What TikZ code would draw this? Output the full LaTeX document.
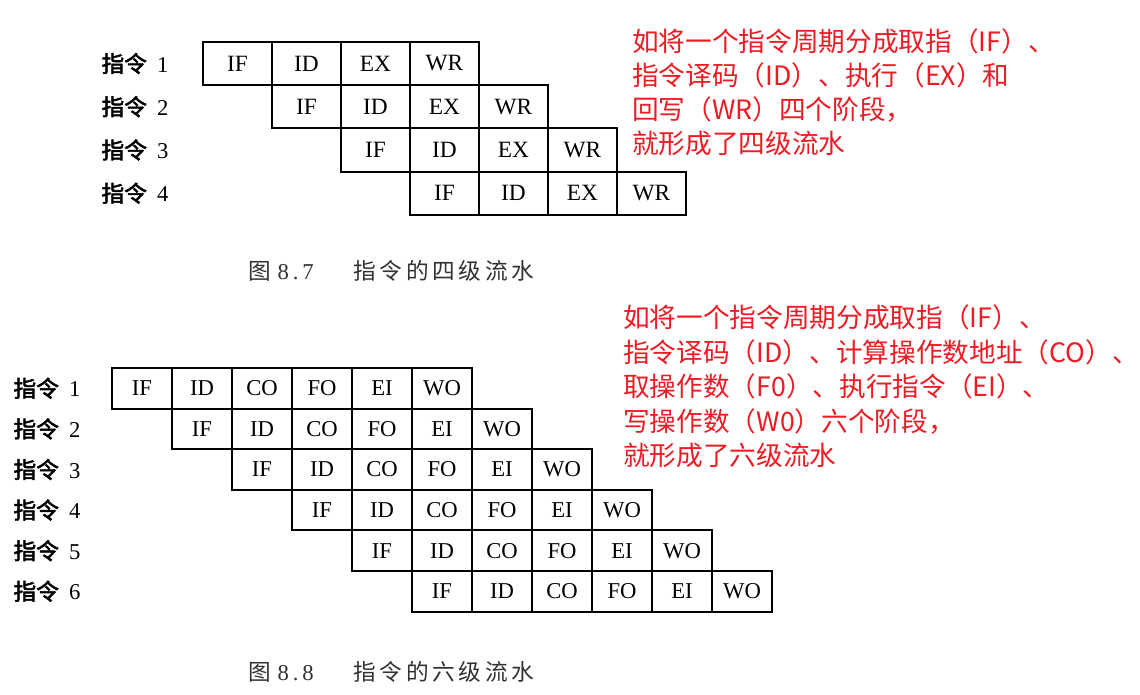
\documentclass[tikz,border=0pt]{standalone}
\usepackage{fontspec}
\setmainfont{Liberation Serif}
\newfontfamily\cjk{Noto Sans CJK SC}
\newfontfamily\cjkbold[FakeBold=2.5]{Noto Sans CJK SC}
\newfontfamily\cjkcap[LetterSpace=16]{Noto Sans CJK SC}
\definecolor{notered}{RGB}{236,28,36}
\definecolor{capgray}{RGB}{50,50,50}
\begin{document}
\begin{tikzpicture}[x=0.75pt,y=-0.75pt,
  cellA/.style={draw,line width=1.45pt,minimum width=51.75pt,minimum height=32.4pt,inner sep=0pt,font=\fontsize{17.5}{17.5}\selectfont},
  cellB/.style={draw,line width=1.45pt,minimum width=45pt,minimum height=30.4pt,inner sep=0pt,font=\fontsize{17}{17}\selectfont},
  lbl/.style={inner sep=0pt,font=\fontsize{17}{17}\selectfont},
  note/.style={text=notered,anchor=base west,inner sep=0pt,font=\cjk\fontsize{20}{20}\selectfont},
  captxt/.style={text=capgray,anchor=west,inner sep=0pt,font=\fontsize{17}{17}\selectfont}]
\useasboundingbox (0,0) rectangle (1140,695);
\fill[white] (0,0) rectangle (1140,695);

% four-stage pipeline
\foreach \i in {1,...,4}{
  \foreach [count=\j] \s in {IF,ID,EX,WR}{
    \node[cellA] (a-\i-\j) at ({237.5+(\i+\j-2)*69},{63.5+(\i-1)*43.25}) {\s};
  }
  \node[lbl] (la-\i) at (135,{63.5+(\i-1)*43.25}) {{\cjkbold 指令}\hspace{0.45em}\i};
}
\node[captxt] (capA) at (248,271) {{\cjk 图}\hspace{0.3em}8\,.\,7\hspace{30pt}{\cjkcap 指令的四级流水}};

% six-stage pipeline
\foreach \i in {1,...,6}{
  \foreach [count=\j] \s in {IF,ID,CO,FO,EI,WO}{
    \node[cellB] (b-\i-\j) at ({142+(\i+\j-2)*60},{388.3+(\i-1)*40.6}) {\s};
  }
  \node[lbl] (lb-\i) at (47,{388.3+(\i-1)*40.6}) {{\cjkbold 指令}\hspace{0.45em}\i};
}
\node[captxt] (capB) at (248,672) {{\cjk 图}\hspace{0.3em}8\,.\,8\hspace{30pt}{\cjkcap 指令的六级流水}};

% red notes
\node[note] (nA1) at (632,52) {如将一个指令周期分成取指（IF）、};
\node[note] (nA2) at (632,86) {指令译码（ID）、执行（EX）和};
\node[note] (nA3) at (632,120) {回写（WR）四个阶段，};
\node[note] (nA4) at (632,154) {就形成了四级流水};

\node[note] (nB1) at (623,328) {如将一个指令周期分成取指（IF）、};
\node[note] (nB2) at (623,362.5) {指令译码（ID）、计算操作数地址（CO）、};
\node[note] (nB3) at (623,397) {取操作数（F0）、执行指令（EI）、};
\node[note] (nB4) at (623,431.5) {写操作数（W0）六个阶段，};
\node[note] (nB5) at (623,466) {就形成了六级流水};
\end{tikzpicture}
\end{document}
